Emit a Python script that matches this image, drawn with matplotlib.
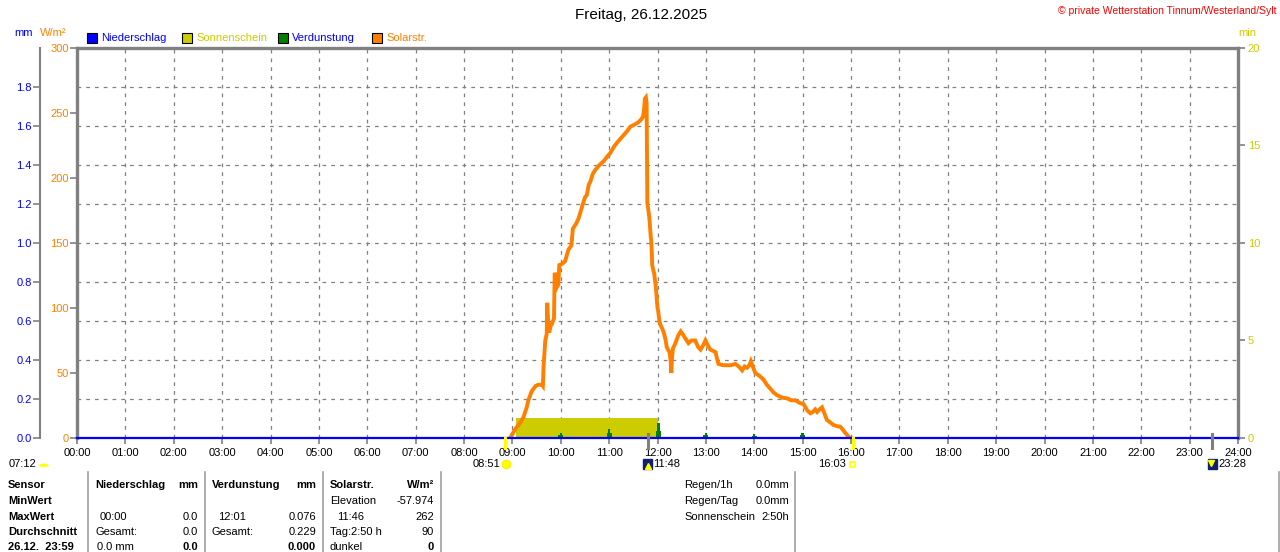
import matplotlib
matplotlib.use('Agg')
import matplotlib.pyplot as plt
from matplotlib.patches import Rectangle
from matplotlib.lines import Line2D
import numpy as np

plt.rcParams['font.family'] = ['Liberation Sans', 'DejaVu Sans']

# ---------------- data ----------------
title = "Freitag, 26.12.2025"
copyright_txt = "© private Wetterstation Tinnum/Westerland/Sylt"
hour_ticks = list(range(25))
hour_labels = [f"{h:02d}:00" for h in hour_ticks]

solar_t = [8.95, 8.97, 9.06, 9.15, 9.23, 9.30, 9.33, 9.40, 9.48, 9.54, 9.61, 9.63, 9.645, 9.68,
           9.71, 9.72, 9.74, 9.76, 9.79, 9.82, 9.86, 9.875, 9.90, 9.92, 9.95, 9.97, 10.03, 10.09,
           10.13, 10.16, 10.22, 10.25, 10.32, 10.37, 10.44, 10.50, 10.54, 10.58, 10.61, 10.66,
           10.71, 10.80, 10.89, 10.95, 11.02, 11.10, 11.16, 11.23, 11.30, 11.37, 11.44, 11.52,
           11.61, 11.66, 11.70, 11.72, 11.74, 11.76, 11.775, 11.785, 11.79, 11.83, 11.84, 11.86,
           11.87, 11.885, 11.89, 11.92, 11.93, 11.96, 11.97, 12.00, 12.01, 12.04, 12.06, 12.10,
           12.13, 12.17, 12.19, 12.23, 12.25, 12.27, 12.285, 12.30, 12.32, 12.36, 12.39, 12.43,
           12.48, 12.52, 12.57, 12.64, 12.70, 12.78, 12.84, 12.89, 12.94, 12.99, 13.03, 13.09,
           13.15, 13.20, 13.23, 13.26, 13.35, 13.44, 13.52, 13.61, 13.68, 13.75, 13.80, 13.85,
           13.90, 13.93, 13.97, 14.02, 14.10, 14.19, 14.26, 14.33, 14.40, 14.47, 14.58, 14.68,
           14.76, 14.85, 14.94, 15.02, 15.10, 15.16, 15.21, 15.26, 15.30, 15.35, 15.40, 15.45,
           15.50, 15.57, 15.64, 15.72, 15.78, 15.84, 15.88, 15.95, 15.98]
solar_v = [0, 1, 7, 11, 16, 24, 29, 36, 40, 41, 41, 40, 55, 75,
           80, 104, 90, 81, 86, 88, 92, 127, 125, 116, 118, 133, 134, 136,
           141, 145, 148, 161, 165, 169, 178, 185, 187, 195, 197, 203,
           206, 210, 213, 216, 219, 224, 227, 230, 233, 236, 239.5, 241,
           243, 245, 247, 252, 261, 262, 258, 200, 181, 170, 165, 155,
           152, 140, 133, 128, 127, 118, 114, 100, 98.5, 90, 87, 84,
           81, 75, 70, 67, 66, 60, 50, 62, 69, 72, 75, 79,
           82, 80, 77, 73, 75, 75, 70, 68, 71, 75, 72, 68,
           67, 66, 61, 57, 56, 56, 56, 57, 55, 52, 55, 54,
           56, 59, 55, 50, 48, 45, 41, 38, 35, 33, 31, 30.5,
           29, 29, 27, 26, 21, 19, 20, 22, 20, 22, 23.6, 19,
           14, 12, 10, 9, 8.7, 6, 4, 1, 0]

evap_t = [10.0, 11.0, 12.02, 13.0, 14.0, 15.0]
evap_mm = [0.028, 0.048, 0.076, 0.028, 0.022, 0.027]

sun_t = [9.08, 12.0]
sun_min = [1.05, 1.05]

rain_t = [0, 24]
rain_mm = [0.0, 0.0]

event_hours = [8.85, 11.8, 16.05, 23.467]
event_labels = ["08:51", "11:48", "16:03", "23:28"]
daylength_label = "07:12"

legend_names = ["Niederschlag", "Sonnenschein", "Verdunstung", "Solarstr."]

# colours
BLUE = '#0000ff'
OLIVE = '#cccc00'
GREEN = '#008000'
ORANGE = '#ff8000'
GRAY = '#808080'
RED = '#ff0000'

W, H = 1280, 552
fig = plt.figure(figsize=(W / 100, H / 100), dpi=100)
fig.patch.set_facecolor('white')


def fx(px):
    return px / W


def fy(py):
    return 1 - py / H


X0, X1, Y0, Y1 = 77, 1238, 48, 438
ax = fig.add_axes([fx(X0), fy(Y1), (X1 - X0) / W, (Y1 - Y0) / H])
ax_mm = ax.twinx()
ax_min = ax.twinx()

ax_min.set_zorder(0)
ax_mm.set_zorder(1)
ax.set_zorder(2)
for a in (ax, ax_mm, ax_min):
    a.patch.set_visible(False)

ax.set_xlim(0, 24)
ax.set_ylim(0, 300)
ax_mm.set_ylim(0, 2.0)
ax_min.set_ylim(0, 20)

# grid (drawn on the lowest axes so data marks cover it)
dash = (0, (3, 4))
ax.set_xticks(hour_ticks)
ax.set_xticklabels(hour_labels)
ax_min.xaxis.set_visible(True)
ax_min.tick_params(axis='x', which='both', bottom=False, top=False,
                   labelbottom=False, labeltop=False)
ax_min.xaxis.grid(True, color=GRAY, linestyle=dash, linewidth=0.9)
ax_mm.set_yticks(np.arange(0, 1.81, 0.2))
ax_mm.set_yticklabels([f"{v:.1f}" for v in np.arange(0, 1.81, 0.2)])
ax_mm.yaxis.grid(True, color=GRAY, linestyle=dash, linewidth=0.9)
ax_mm.set_axisbelow(True)
ax_min.set_axisbelow(True)

# sunshine bars
ax_min.fill_between(sun_t, sun_min, 0, color=OLIVE, linewidth=0, zorder=2)

# evaporation spikes
for t, v in zip(evap_t, evap_mm):
    ax_mm.fill([t - 0.05, t - 0.05, t - 0.025, t - 0.025, t + 0.025, t + 0.025, t + 0.05, t + 0.05],
               [0, v * 0.5, v * 0.5, v, v, v * 0.5, v * 0.5, 0], color=GREEN, linewidth=0,
               zorder=3)

# solar radiation
ax.plot(solar_t, solar_v, color=ORANGE, linewidth=2.8, solid_joinstyle='miter', zorder=3)

# rain line (blue)
ax.plot(rain_t, rain_mm, color=BLUE, linewidth=1.6, transform=ax_mm.transData, zorder=4,
        clip_on=False)

# spines / ticks main axis
for s in ('top', 'left', 'right'):
    ax.spines[s].set_color(GRAY)
    ax.spines[s].set_linewidth(2.4)
ax.spines['bottom'].set_color(GRAY)
ax.spines['bottom'].set_linewidth(1.2)
ax.tick_params(axis='x', direction='out', length=4, width=1.2, color=GRAY, labelsize=8,
               pad=3, labelcolor='black')
ax.set_yticks([0, 50, 100, 150, 200, 250, 300])
ax.tick_params(axis='y', direction='out', length=5, width=1.2, color=GRAY, labelsize=8,
               pad=1, labelcolor=ORANGE)

# mm axis on left
for s in ('top', 'right', 'bottom'):
    ax_mm.spines[s].set_visible(False)
ax_mm.spines['left'].set_visible(True)
ax_mm.spines['left'].set_position(('axes', -(X0 - 40) / (X1 - X0)))
ax_mm.spines['left'].set_color(GRAY)
ax_mm.spines['left'].set_linewidth(1.5)
ax_mm.yaxis.set_ticks_position('left')
ax_mm.yaxis.set_label_position('left')
ax_mm.tick_params(axis='y', direction='out', length=5, width=1.2, color=GRAY, labelsize=8,
                  pad=1, labelcolor=BLUE)

# min axis on right
for s in ('top', 'left', 'bottom', 'right'):
    ax_min.spines[s].set_visible(False)
ax_min.set_yticks([0, 5, 10, 15, 20])
ax_min.tick_params(axis='y', direction='out', length=5, width=1.2, color=GRAY, labelsize=8,
                   pad=2, labelcolor=OLIVE)

# event ticks below axis
xtr = ax.get_xaxis_transform()
for i, (t, lab) in enumerate(zip(event_hours, event_labels)):
    col = '#ffff00' if i in (0, 2) else GRAY
    top = 0 if i in (0, 2) else 4 / 390
    ax.add_line(Line2D([t, t], [top, -10 / 390], transform=xtr, color=col, linewidth=2.2,
                       clip_on=False, zorder=5))

fs = 8
# event labels and icons
fig.text(fx(500), fy(464), event_labels[0], ha='right', va='center', fontsize=fs)
fig.add_artist(Line2D([fx(506)], [fy(464)], marker='o', markersize=6, color='#ffff00',
                      markeredgecolor='#ffee00', transform=fig.transFigure))
fig.add_artist(Rectangle((fx(643), fy(469)), 9 / W, 10 / H, color='#102070',
                         transform=fig.transFigure))
fig.add_artist(Line2D([fx(647.5)], [fy(466)], marker='^', markersize=4, color='#ffff00',
                      transform=fig.transFigure, linestyle='none'))
fig.text(fx(653), fy(464), event_labels[1], ha='left', va='center', fontsize=fs)
fig.text(fx(846), fy(464), event_labels[2], ha='right', va='center', fontsize=fs)
fig.add_artist(Rectangle((fx(849.5), fy(467)), 5 / W, 5 / H, facecolor='none',
                         edgecolor='#ffff00', linewidth=1.2, transform=fig.transFigure))
fig.add_artist(Rectangle((fx(1208), fy(469)), 9 / W, 10 / H, color='#102070',
                         transform=fig.transFigure))
fig.add_artist(Line2D([fx(1211)], [fy(463)], marker='v', markersize=4, color='#ffff00',
                      transform=fig.transFigure, linestyle='none'))
fig.text(fx(1218), fy(464), event_labels[3], ha='left', va='center', fontsize=fs)
fig.text(fx(9), fy(464), daylength_label, ha='left', va='center', fontsize=fs)
fig.add_artist(matplotlib.patches.Wedge((fx(44), fy(466)), 4 / W, 0, 180, color='#ffff00',
                                        transform=fig.transFigure))

# title and header texts
fig.text(fx(641), fy(15), title, ha='center', va='center', fontsize=11)
fig.text(fx(1276), fy(11), copyright_txt, ha='right', va='center', fontsize=7.5, color=RED)
fig.text(fx(14), fy(33), "mm", ha='left', va='center', fontsize=fs, color=BLUE)
fig.text(fx(40), fy(33), "W/m²", ha='left', va='center', fontsize=fs, color=ORANGE)
fig.text(fx(1238), fy(33), "min", ha='left', va='center', fontsize=fs, color=OLIVE)

leg_x = [87, 182, 278, 372]
leg_fill = [BLUE, OLIVE, GREEN, ORANGE]
leg_txtcol = [BLUE, OLIVE, BLUE, ORANGE]
for x, name, fc, tc in zip(leg_x, legend_names, leg_fill, leg_txtcol):
    fig.add_artist(Rectangle((fx(x), fy(43)), 10 / W, 10 / H, facecolor=fc, edgecolor='black',
                             linewidth=0.8, transform=fig.transFigure))
    fig.text(fx(x + 14), fy(38), name, ha='left', va='center', fontsize=fs, color=tc)

# ---------------- table ----------------
for x in [88, 205, 323, 441, 795, 1279]:
    fig.add_artist(Line2D([fx(x), fx(x)], [fy(472), fy(552)], color='#a0a0a0', linewidth=1.2,
                          transform=fig.transFigure))

rows_y = [485, 501, 517, 532, 547]
col1 = ["Sensor", "MinWert", "MaxWert", "Durchschnitt", "26.12.  23:59"]
for y, s in zip(rows_y, col1):
    fig.text(fx(8), fy(y), s, ha='left', va='center', fontsize=fs, fontweight='bold')


def cell(x, y, s, ha='left', bold=False):
    fig.text(fx(x), fy(y), s, ha=ha, va='center', fontsize=fs,
             fontweight='bold' if bold else 'normal')


# Niederschlag
cell(95, rows_y[0], "Niederschlag", bold=True)
cell(198, rows_y[0], "mm", ha='right', bold=True)
cell(100, rows_y[2], "00:00")
cell(198, rows_y[2], "0.0", ha='right')
cell(95, rows_y[3], "Gesamt:")
cell(198, rows_y[3], "0.0", ha='right')
cell(97, rows_y[4], "0.0 mm")
cell(198, rows_y[4], "0.0", ha='right', bold=True)
# Verdunstung
cell(212, rows_y[0], "Verdunstung", bold=True)
cell(316, rows_y[0], "mm", ha='right', bold=True)
cell(218, rows_y[2], "12:01")
cell(316, rows_y[2], "0.076", ha='right')
cell(212, rows_y[3], "Gesamt:")
cell(316, rows_y[3], "0.229", ha='right')
cell(316, rows_y[4], "0.000", ha='right', bold=True)
# Solar
cell(330, rows_y[0], "Solarstr.", bold=True)
cell(434, rows_y[0], "W/m²", ha='right', bold=True)
cell(330, rows_y[1], "Elevation")
cell(434, rows_y[1], "-57.974", ha='right')
cell(337, rows_y[2], "11:46")
cell(434, rows_y[2], "262", ha='right')
cell(330, rows_y[3], "Tag:2:50 h")
cell(434, rows_y[3], "90", ha='right')
cell(330, rows_y[4], "dunkel")
cell(434, rows_y[4], "0", ha='right', bold=True)
# summary block
summ_names = ["Regen/1h", "Regen/Tag", "Sonnenschein"]
summ_vals = ["0.0mm", "0.0mm", "2:50h"]
for y, n, v in zip(rows_y[:3], summ_names, summ_vals):
    cell(684, y, n)
    cell(789, y, v, ha='right')

fig.savefig('out.png', dpi=100, facecolor='white')
